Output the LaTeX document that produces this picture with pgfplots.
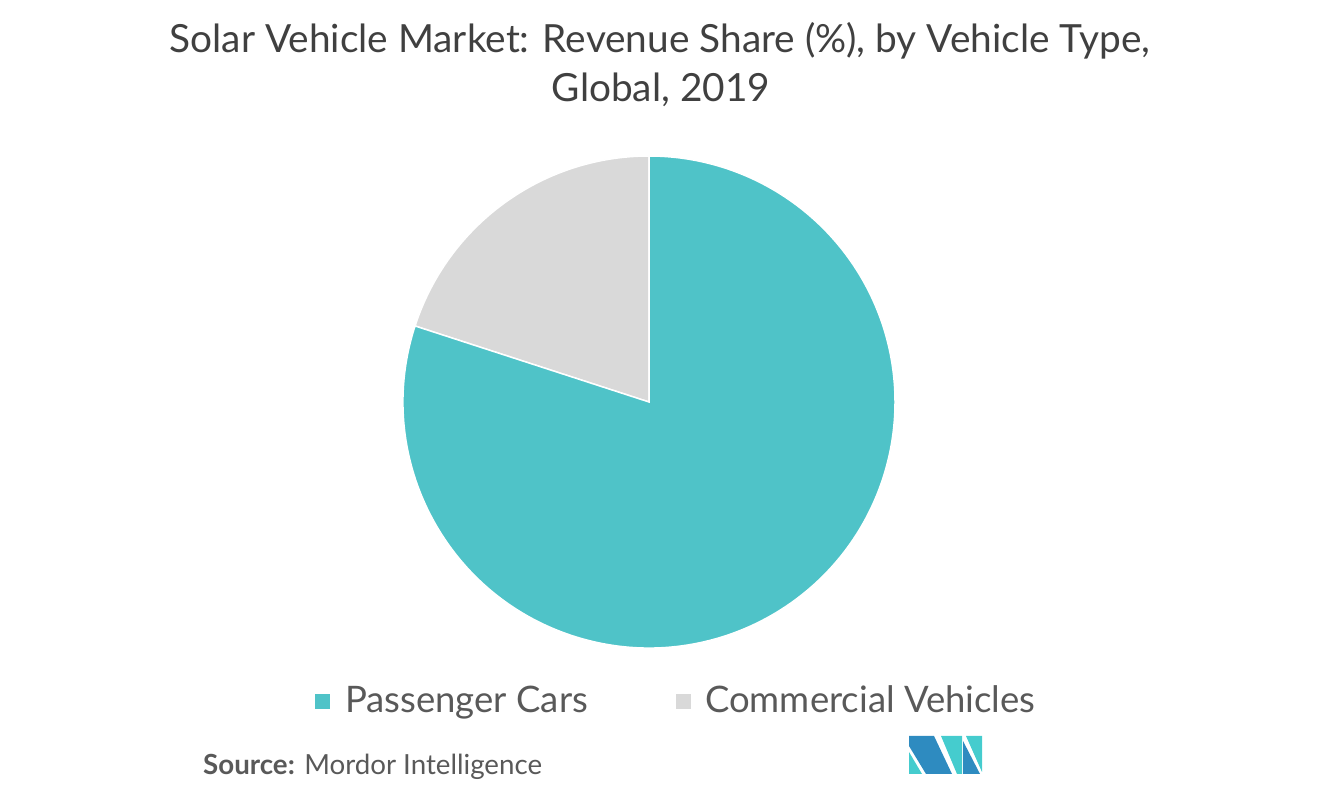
\documentclass[border=0pt]{standalone}
\usepackage{pgfplots}
\pgfplotsset{compat=1.18}
\usepackage{pgfplotstable}
\usepackage{fontspec}
\setmainfont{Lato}
\definecolor{teal1}{HTML}{4FC3C8}
\definecolor{gray1}{HTML}{D9D9D9}
\definecolor{txt}{HTML}{595959}
\definecolor{ttl}{HTML}{404040}
\definecolor{logoblue}{HTML}{2E8BC0}
\definecolor{logoteal}{HTML}{45CCCE}

\pgfplotstableread{
type share
Passenger 80
Commercial 20
}\sharetable

\begin{document}
\begin{tikzpicture}[x=1pt,y=1pt]
\useasboundingbox (0,0) rectangle (1321,802);
\pgfplotstablegetelem{0}{share}\of\sharetable \let\pcval\pgfplotsretval
\pgfplotstablegetelem{1}{share}\of\sharetable \let\cvval\pgfplotsretval
\pgfmathsetmacro{\split}{90+3.6*\cvval}
\pgfmathsetmacro{\pcend}{\split+3.6*\pcval}
\begin{axis}[
  at={(649pt,400pt)}, anchor=center,
  width=492pt, height=492pt, scale only axis,
  xmin=-1, xmax=1, ymin=-1, ymax=1,
  hide axis, clip=false
]
\fill[gray1, draw=white, line width=1.5pt] (axis cs:0,0) -- (axis cs:0,1) arc[start angle=90, end angle=\split, radius=246pt] -- cycle;
\fill[teal1, draw=white, line width=1.5pt] (axis cs:0,0) -- ({axis cs:{cos(\split)},{sin(\split)}}) arc[start angle=\split, end angle=\pcend, radius=246pt] -- cycle;
\end{axis}
% title
\node[anchor=base, text=ttl, font=\fontsize{38.8}{46}\selectfont] at (660,749) {Solar Vehicle Market: Revenue Share (\%), by Vehicle Type,};
\node[anchor=base, text=ttl, font=\fontsize{38.8}{46}\selectfont] at (661,700) {Global, 2019};
% legend
\fill[teal1] (315,93) rectangle (330,108);
\node[anchor=base west, inner sep=0pt, text=txt, font=\fontsize{36.5}{42}\selectfont] at (345,89) {Passenger Cars};
\fill[gray1] (676,93) rectangle (691,108);
\node[anchor=base west, inner sep=0pt, text=txt, font=\fontsize{36.5}{42}\selectfont] at (705,89) {Commercial Vehicles};
% source
\node[anchor=base west, inner sep=0pt, text=txt, font=\fontsize{27.7}{32}\selectfont] at (203,27) {\textbf{Source:} Mordor Intelligence};
% logo
\fill[logoteal] (909,50) -- (909,28) -- (922,28) -- cycle;
\fill[logoblue] (909,66) -- (934,66) -- (952,28) -- (926,28) -- (909,56) -- cycle;
\fill[logoteal] (941,66) -- (962,66) -- (962,28) -- (957,28) -- cycle;
\fill[logoteal] (966,66) -- (982,66) -- (982,30) -- cycle;
\fill[logoblue] (963,61) -- (963,28) -- (980,28) -- cycle;
\end{tikzpicture}
\end{document}
